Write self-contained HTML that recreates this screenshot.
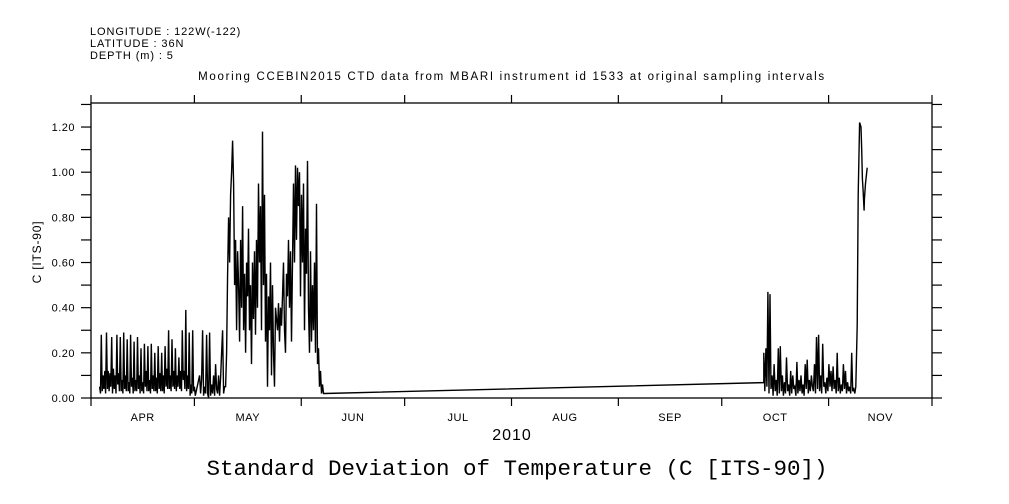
<!DOCTYPE html>
<html><head><meta charset="utf-8"><style>
body{margin:0;background:#fff;}
svg{display:block;font-family:"Liberation Sans",sans-serif;}
</style></head><body>
<svg id="c" width="1009" height="504"></svg>
<script>
const monthLabels=["APR","MAY","JUN","JUL","AUG","SEP","OCT","NOV"];
const monthStartDays=[0,30,61,91,122,153,183,214,244];
const yTicks=[0,0.1,0.2,0.3,0.4,0.5,0.6,0.7,0.8,0.9,1.0,1.1,1.2,1.3];
const yTickLabels=["0.00","0.20","0.40","0.60","0.80","1.00","1.20"];
const aprStart=2.5, aprStep=0.25;
const aprValues=[0.05,0.02,0.28,0.03,0.1,0.04,0.12,0.02,0.29,0.04,0.12,0.03,0.11,0.05,0.27,0.02,0.13,0.04,0.1,0.02,0.28,0.06,0.11,0.03,0.27,0.03,0.08,0.02,0.29,0.04,0.1,0.03,0.26,0.03,0.07,0.02,0.28,0.05,0.09,0.02,0.25,0.03,0.08,0.03,0.27,0.04,0.1,0.02,0.22,0.03,0.07,0.02,0.24,0.05,0.12,0.03,0.23,0.03,0.08,0.02,0.24,0.04,0.1,0.03,0.2,0.03,0.09,0.02,0.23,0.04,0.11,0.03,0.2,0.03,0.1,0.02,0.23,0.05,0.13,0.04,0.3,0.04,0.1,0.03,0.26,0.05,0.12,0.04,0.22,0.03,0.1,0.05,0.18,0.04,0.12,0.03,0.3,0.08,0.12,0.04,0.39,0.03,0.1,0.04,0.29,0.01,0.06,0.02,0.3,0.03,0.05,0.01];
const mayStart=31.5, mayStep=0.29;
const mayValues=[0.1,0.02,0.08,0.3,0.01,0.05,0.02,0.28,0.02,0.0,0.29,0.01,0.06,0.02,0.1,0.01,0.15,0.04,0.02,0.1,0.01,0.09,0.2,0.3,0.02,0.05,0.05,0.2,0.55,0.8,0.6,0.9,1.0,1.14,0.95,0.5,0.7,0.3,0.65,0.5,0.25,0.7,0.4,0.85,0.3,0.55,0.2,0.6,0.45,0.75,0.3,0.5,0.15,0.6,0.35,0.65,0.28,0.7,0.4,0.95,0.6,0.85,0.3,1.18,0.5,0.9,0.25,0.55,0.05,0.45,0.3,0.6,0.1,0.5,0.2,0.05,0.4,0.35,0.3,0.42,0.25,0.4,0.32,0.45,0.6,0.3,0.2,0.55,0.45,0.7,0.4,0.65,0.25,0.6,0.95,0.6,1.03,0.7,1.02,0.85,1.0,0.45,0.9,0.6,0.95,0.3,0.75,0.55,1.05,0.4,0.2,0.65,0.25,0.5,0.3,0.6,0.2,0.86,0.15,0.22,0.05,0.12,0.02,0.06,0.02];
const gapDays=[67.8,195.2];
const gapValues=[0.02,0.068];
const octStart=195.2, octStep=0.3;
const octValues=[0.2,0.03,0.22,0.05,0.47,0.02,0.46,0.04,0.1,0.01,0.15,0.03,0.08,0.01,0.22,0.02,0.23,0.03,0.1,0.01,0.07,0.02,0.18,0.03,0.06,0.01,0.12,0.02,0.1,0.04,0.05,0.01,0.16,0.02,0.08,0.03,0.1,0.02,0.06,0.01,0.15,0.04,0.17,0.02,0.08,0.03,0.1,0.05,0.03,0.15,0.02,0.27,0.04,0.28,0.03,0.1,0.02,0.24,0.05,0.07,0.02,0.09,0.03,0.15,0.05,0.12,0.03,0.14,0.04,0.08,0.02,0.2,0.03,0.09,0.02,0.06,0.03,0.15,0.04,0.12,0.02,0.07,0.03,0.05,0.02,0.2,0.03,0.04,0.02];
const novDays=[221.9,222.3,222.6,223.0,223.4,223.6,223.8,224.0,224.3,224.4,224.7,225.2];
const novValues=[0.05,0.32,0.9,1.22,1.2,1.1,0.97,0.92,0.83,0.88,0.95,1.02];

const L=91,R=932,T=103,B=398;
const xS=d=>L+d*(R-L)/244;
const yS=v=>B-v*225.8;
const svg=document.getElementById('c');
const NS='http://www.w3.org/2000/svg';
function mk(tag,attrs,parent){const e=document.createElementNS(NS,tag);for(const k in attrs)e.setAttribute(k,attrs[k]);(parent||svg).appendChild(e);return e;}
function txt(x,y,s,size,anchor,fam,ls){const t=mk('text',{x:x,y:y,'font-size':size,'text-anchor':anchor||'start',fill:'#000'});if(fam)t.setAttribute('font-family',fam);if(ls)t.setAttribute('letter-spacing',ls);t.textContent=s;return t;}

let t;
t=txt(90,35,"LONGITUDE : 122W(-122)",11,'start',null,0.9);
t=txt(90,47,"LATITUDE : 36N",11,'start',null,0.9);
t=txt(90,59,"DEPTH (m) : 5",11,'start',null,0.9);
t=txt(512,80,"Mooring CCEBIN2015 CTD data from MBARI instrument id 1533 at original sampling intervals",11.5,'middle',null,1.7);



const frame=mk('rect',{x:L,y:T,width:R-L,height:B-T,fill:'none',stroke:'#000','stroke-width':1.3});



monthStartDays.forEach(d=>{
  const x=xS(d);
  const a=mk('line',{x1:x,y1:B,x2:x,y2:B+8,stroke:'#000','stroke-width':1.2});
  
  
  const b=mk('line',{x1:x,y1:T,x2:x,y2:T-8,stroke:'#000','stroke-width':1.2});
  
  
});
monthLabels.forEach((m,i)=>{
  const x=(xS(monthStartDays[i])+xS(monthStartDays[i+1]))/2;
  const e=txt(x,421,m,11,'middle',null,0.5);
  
  
});
yTicks.forEach((v,i)=>{
  const y=yS(v);
  if(y<T)return;
  const a=mk('line',{x1:L,y1:y,x2:L-10,y2:y,stroke:'#000','stroke-width':1.2});
  
  
  const b=mk('line',{x1:R,y1:y,x2:R+10,y2:y,stroke:'#000','stroke-width':1.2});
  
  
});
yTickLabels.forEach((s,i)=>{
  const e=txt(75,yS(i*0.2)+4,s,11,'end',null,0.5);
  
  
});
t=mk('text',{x:41,y:252,'font-size':12,'text-anchor':'middle','letter-spacing':0.8,transform:'rotate(-90 41 252)'});
t.textContent="C [ITS-90]";


t=txt(512,440,"2010",16,'middle',null,1);


t=txt(517,475,"Standard Deviation of Temperature (C [ITS-90])",22.5,'middle','"Liberation Mono",monospace');



const pts=[];
aprValues.forEach((v,i)=>pts.push([aprStart+i*aprStep,v]));
mayValues.forEach((v,i)=>pts.push([mayStart+i*mayStep,v]));
gapDays.forEach((d,i)=>pts.push([d,gapValues[i]]));
octValues.forEach((v,i)=>pts.push([octStart+i*octStep,v]));
novDays.forEach((d,i)=>pts.push([d,novValues[i]]));
const line=mk('polyline',{points:pts.map(p=>xS(p[0]).toFixed(1)+','+yS(p[1]).toFixed(1)).join(' '),fill:'none',stroke:'#000','stroke-width':1.4,'stroke-linejoin':'miter'});


</script>
</body></html>
